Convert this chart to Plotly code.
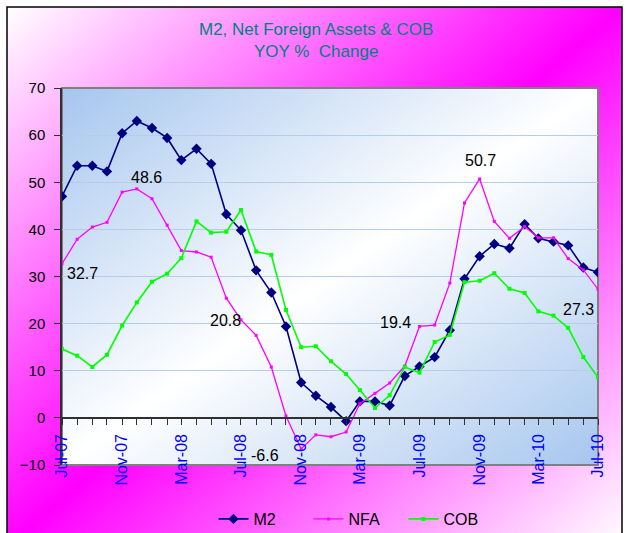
import base64
import pandas as pd
import plotly.graph_objects as go

months = pd.date_range("2007-07-01", "2010-07-01", freq="MS")

m2 = [47.0, 53.5, 53.5, 52.3, 60.4, 63.0, 61.5, 59.4, 54.7, 57.1, 53.9, 43.2,
      39.8, 31.3, 26.6, 19.4, 7.5, 4.7, 2.3, -0.7, 3.5, 3.5, 2.6, 8.9,
      10.9, 12.9, 18.6, 29.5, 34.3, 36.9, 36.0, 41.1, 38.1, 37.4, 36.6, 31.9, 30.9]
nfa = [32.7, 37.9, 40.5, 41.5, 47.9, 48.6, 46.5, 40.9, 35.5, 35.2, 34.1, 25.4,
       20.8, 17.5, 10.8, 0.4, -6.6, -3.6, -4.0, -3.0, 3.0, 5.2, 7.4, 11.0,
       19.4, 19.7, 28.6, 45.6, 50.7, 41.7, 38.1, 40.6, 38.2, 38.2, 33.8, 31.4, 27.3]
cob = [14.6, 13.2, 10.8, 13.4, 19.6, 24.5, 28.9, 30.6, 33.9, 41.7, 39.3, 39.5,
       44.1, 35.3, 34.6, 22.9, 15.0, 15.2, 12.0, 9.3, 5.9, 2.1, 4.8, 10.8,
       9.6, 16.1, 17.6, 28.8, 29.1, 30.7, 27.4, 26.5, 22.6, 21.7, 19.1, 12.9, 8.6]

# (series, index) of labelled points and pixel offsets of their labels
label_points = [(nfa, 0, 20, -10), (nfa, 5, 10, 11), (nfa, 12, -15, -1),
                (nfa, 16, -36, -7), (nfa, 24, -24, 4), (nfa, 28, 1, 18),
                (nfa, 36, -20, -20)]

FONT = "Arial, Liberation Sans, sans-serif"

# figure geometry (pixels)
W, H = 626, 533
L, R, T, B = 62, 598, 88, 465
pw, ph = R - L, B - T


def gradient_svg(c_end, c_mid):
    svg = (
        '<svg xmlns="http://www.w3.org/2000/svg" width="100" height="100" '
        'preserveAspectRatio="none" viewBox="0 0 100 100">'
        '<defs><linearGradient id="g" x1="0" y1="0" x2="1" y2="1">'
        f'<stop offset="0" stop-color="{c_end}"/>'
        f'<stop offset="0.5" stop-color="{c_mid}"/>'
        f'<stop offset="1" stop-color="{c_end}"/>'
        '</linearGradient></defs>'
        '<rect x="0" y="0" width="100" height="100" fill="url(#g)"/></svg>'
    )
    return "data:image/svg+xml;base64," + base64.b64encode(svg.encode()).decode()


def px_x(p):
    return (p - L) / pw


def px_y(p):
    return (B - p) / ph


fig = go.Figure()
fig.add_trace(go.Scatter(x=months, y=m2, name="M2", mode="lines+markers",
                         line=dict(color="#000080", width=1.6),
                         marker=dict(symbol="diamond", size=8, color="#000080")))
fig.add_trace(go.Scatter(x=months, y=nfa, name="NFA", mode="lines+markers",
                         line=dict(color="#ff00ff", width=1.3),
                         marker=dict(symbol="square", size=3, color="#ff00ff")))
fig.add_trace(go.Scatter(x=months, y=cob, name="COB", mode="lines+markers",
                         line=dict(color="#00ff00", width=1.6),
                         marker=dict(symbol="square", size=4, color="#00ff00")))

for series, i, dx, dy in label_points:
    fig.add_annotation(x=months[i], y=series[i], text=f"{series[i]:.1f}",
                       showarrow=False, xshift=dx, yshift=dy,
                       font=dict(family=FONT, size=16, color="#000000"))

# backgrounds
outer_top, outer_bot, outer_l, outer_r = 7, 548, 7, 622
fig.add_layout_image(source=gradient_svg("#ffffff", "#ff00ff"), xref="paper", yref="paper",
                     x=px_x(outer_l), y=px_y(outer_top), sizex=(outer_r - outer_l) / pw,
                     sizey=(outer_bot - outer_top) / ph, sizing="stretch",
                     xanchor="left", yanchor="top", layer="below")
fig.add_layout_image(source=gradient_svg("#a6c6ee", "#ffffff"), xref="paper", yref="paper",
                     x=0, y=1, sizex=1, sizey=1, sizing="stretch",
                     xanchor="left", yanchor="top", layer="below")

# chart border and plot area border
fig.add_shape(type="rect", xref="paper", yref="paper",
              x0=px_x(outer_l), x1=px_x(outer_r), y0=px_y(outer_bot), y1=px_y(outer_top),
              line=dict(color="#000000", width=1.5), layer="above")
fig.add_shape(type="rect", xref="paper", yref="paper", x0=0, x1=1, y0=0, y1=1,
              line=dict(color="#808080", width=2), layer="below")

fig.update_layout(
    width=W, height=H,
    margin=dict(l=L, r=W - R, t=T, b=H - B, pad=0, autoexpand=False),
    paper_bgcolor="#ffffff",
    plot_bgcolor="rgba(0,0,0,0)",
    font=dict(family=FONT, color="#000000"),
    title=dict(text="M2, Net Foreign Assets & COB<br>YOY %  Change",
               x=0.505, xanchor="center", xref="container",
               y=0.934, yanchor="middle", yref="container",
               font=dict(family=FONT, size=17, color="#008080")),
    showlegend=True,
    legend=dict(orientation="h", x=px_x(356), xanchor="center",
                y=1 - 519 / H, yanchor="middle", yref="container",
                bgcolor="rgba(0,0,0,0)",
                font=dict(family=FONT, size=16, color="#000000"),
                itemwidth=30, entrywidth=50, traceorder="normal"),
    xaxis=dict(type="date", range=[months[0], months[-1]],
               tick0=months[0], dtick="M4", tickformat="%b-%y",
               tickangle=-90, ticks="outside", ticklen=6, tickwidth=1.2,
               tickcolor="#303030", showgrid=False, zeroline=False,
               showline=True, linecolor="#303030", linewidth=1.5,
               anchor="free", position=0.125, ticklabelstandoff=3,
               tickfont=dict(family=FONT, size=16, color="#0000ff"),
               minor=dict(dtick="M1", tick0=months[0], ticks="outside", ticklen=6,
                          tickwidth=1.2, tickcolor="#303030", showgrid=False)),
    yaxis=dict(range=[-10, 70], dtick=10, tick0=0, ticks="outside", ticklen=6,
               tickwidth=1.2, tickcolor="#303030",
               showgrid=True, gridcolor="#b4cdea", gridwidth=1,
               zeroline=False, showline=True, linecolor="#303030", linewidth=1.5,
               ticklabelstandoff=6,
               tickfont=dict(family=FONT, size=15, color="#000000")),
)

fig.write_html("out.html",
               config={"displayModeBar": False},
               post_script="document.body.style.margin='0px';"
                           "document.documentElement.style.overflow='hidden';")
